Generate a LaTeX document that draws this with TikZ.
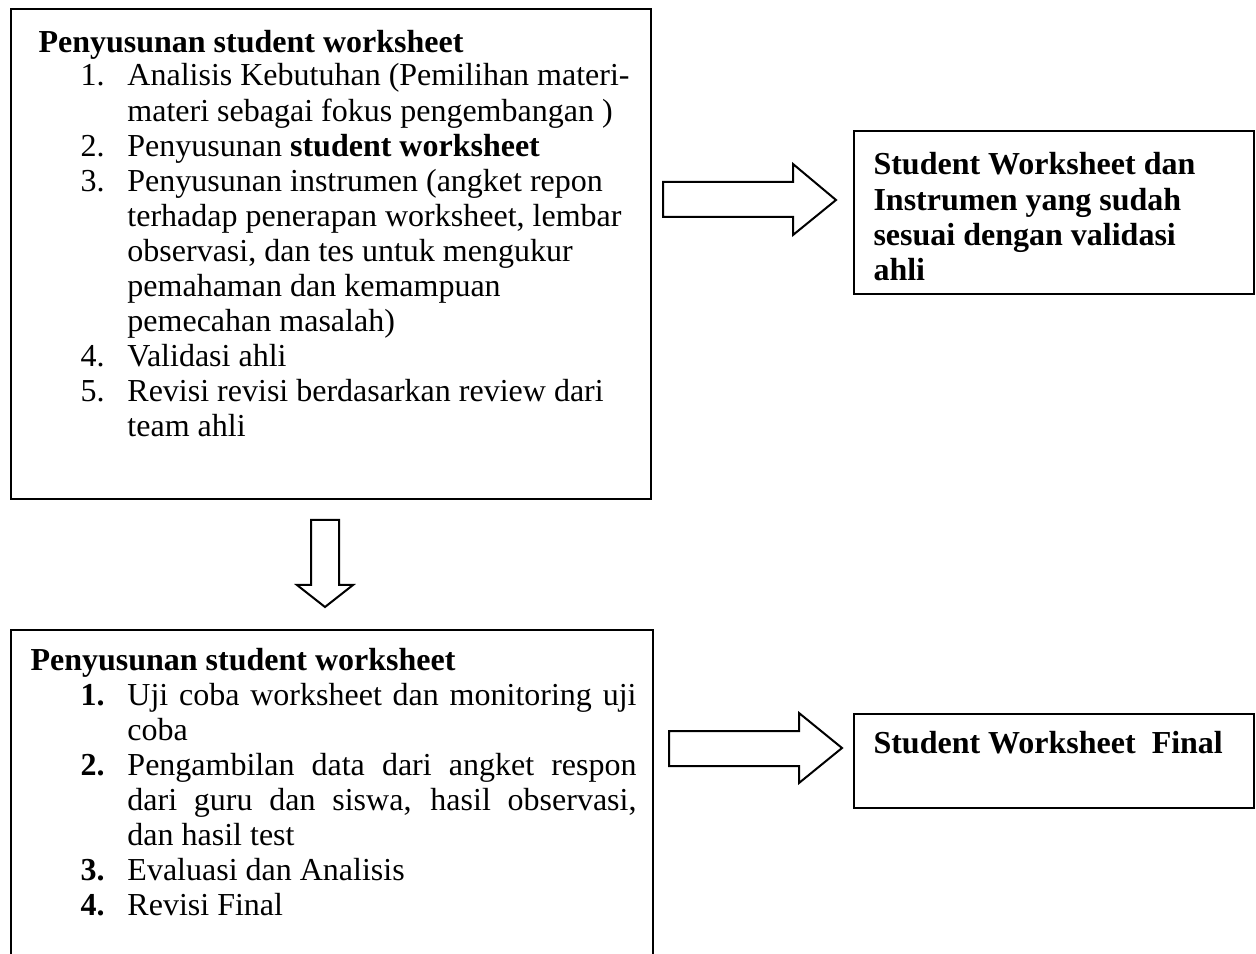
\documentclass[tikz,border=0pt]{standalone}
\usepackage{fontspec}
\setmainfont{Liberation Serif}
\newcommand{\jline}[1]{\makebox[190.9pt][s]{#1}}
\begin{document}
\begin{tikzpicture}[x=0.375pt,y=-0.375pt,
  box/.style={draw, line width=0.75pt, inner sep=0pt, anchor=north west},
  blk/.style={draw, line width=0.75pt, line join=miter},
  txt/.style={inner sep=0pt, anchor=base west, font=\fontsize{12}{13.15}\selectfont}]
\useasboundingbox (0,0) rectangle (1256,954);
% boxes
\node[box, minimum width=240pt, minimum height=183.75pt] (b1) at (10,8) {};
\node[box, minimum width=150pt, minimum height=61.125pt] (b2) at (853,130) {};
\node[box, minimum width=240.75pt, minimum height=130pt] (b3) at (10,629) {};
\node[box, minimum width=150pt, minimum height=35.25pt] (b4) at (853,713) {};
% box 1 text
\node[txt] (t1) at (38,53) {\textbf{Penyusunan student worksheet}};
\node[txt] (l1) at (80,86) {\begin{tabular}[t]{@{}p{17.6pt}@{}l@{}}
1. & Analisis Kebutuhan (Pemilihan materi-\\
   & materi sebagai fokus pengembangan )\\
2. & Penyusunan \textbf{student worksheet}\\
3. & Penyusunan instrumen (angket repon\\
   & terhadap penerapan worksheet, lembar\\
   & observasi, dan tes untuk mengukur\\
   & pemahaman dan kemampuan\\
   & pemecahan masalah)\\
4. & Validasi ahli\\
5. & Revisi revisi berdasarkan review dari\\
   & team ahli
\end{tabular}};
% box 2 text
\node[txt] (t2) at (873,175) {\begin{tabular}[t]{@{}l@{}}
\textbf{Student Worksheet dan}\\
\textbf{Instrumen yang sudah}\\
\textbf{sesuai dengan validasi}\\
\textbf{ahli}
\end{tabular}};
% box 3 text
\node[txt] (t3) at (30,670) {\textbf{Penyusunan student worksheet}};
\node[txt] (l3) at (80,705) {\begin{tabular}[t]{@{}p{17.6pt}@{}l@{}}
\textbf{1.} & \jline{Uji coba worksheet dan monitoring uji}\\
   & coba\\
\textbf{2.} & \jline{Pengambilan data dari angket respon}\\
   & \jline{dari guru dan siswa, hasil observasi,}\\
   & dan hasil test\\
\textbf{3.} & Evaluasi dan Analisis\\
\textbf{4.} & Revisi Final
\end{tabular}};
% box 4 text
\node[txt] (t4) at (873,753) {\textbf{Student Worksheet\ \ Final}};
% block arrows
\coordinate (a1s) at (663,182);
\coordinate (a1t) at (836,200);
\draw[blk] (a1s) -- (793,182) -- (793,164) -- (a1t) -- (793,235) -- (793,217) -- (663,217) -- cycle;
\coordinate (a2s) at (311,520);
\coordinate (a2t) at (325,607);
\draw[blk] (a2s) -- (339,520) -- (339,585) -- (353,585) -- (a2t) -- (297,585) -- (311,585) -- cycle;
\coordinate (a3s) at (669,731);
\coordinate (a3t) at (842,748);
\draw[blk] (a3s) -- (799,731) -- (799,713) -- (a3t) -- (799,783) -- (799,766) -- (669,766) -- cycle;
\end{tikzpicture}
\end{document}
